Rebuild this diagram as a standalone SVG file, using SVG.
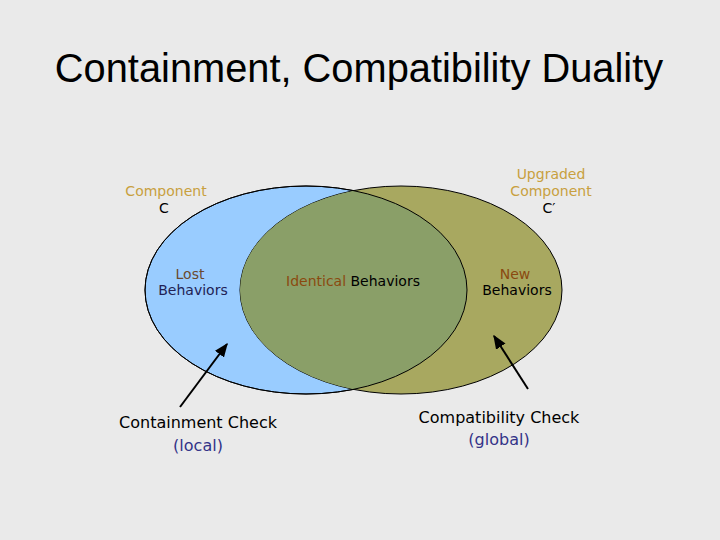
<svg xmlns="http://www.w3.org/2000/svg" width="720" height="540" viewBox="0 0 720 540">
<style>
.v{font-family:Verdana,"DejaVu Sans",sans-serif;font-size:14px;text-anchor:middle}
.t{font-family:Tahoma,"DejaVu Sans",sans-serif;font-size:16px;text-anchor:middle}
.e{stroke:#000;stroke-width:1}
</style>
<defs>
<marker id="a" viewBox="0 0 10 10" refX="9" refY="5" markerWidth="7" markerHeight="7" orient="auto"><path d="M0,1 L10,5 L0,9 z" fill="#000"/></marker>
<clipPath id="c"><ellipse cx="306" cy="290" rx="161" ry="104"/></clipPath>
</defs>
<rect width="720" height="540" fill="#eaeaea"/>
<text x="359" y="82" font-family="Liberation Sans,Arial,sans-serif" font-size="39.8" text-anchor="middle">Containment, Compatibility Duality</text>
<g id="compC"><ellipse class="e" cx="306" cy="290" rx="161" ry="104" fill="#99ccff"/></g>
<g id="compCp"><ellipse class="e" cx="401" cy="290" rx="161" ry="104" fill="#a8a860"/>
<ellipse cx="401" cy="290" rx="161" ry="104" fill="#8a9f68" clip-path="url(#c)"/>
<ellipse cx="306" cy="290" rx="161" ry="104" fill="none" stroke="#000" stroke-width="1"/>
</g>
<g id="labels">
<text class="v" x="166" y="196" fill="#c8a040">Component</text>
<text class="v" x="164" y="213" fill="#000">C</text>
<text class="v" x="551" y="179" fill="#c8a040">Upgraded</text>
<text class="v" x="551" y="196" fill="#c8a040">Component</text>
<text class="v" x="549" y="213" fill="#000">C′</text>
<text class="v" x="190" y="279" font-size="12" fill="#6a4a30">Lost</text>
<text class="v" x="193" y="295" font-size="12" fill="#222255">Behaviors</text>
<text class="v" x="353" y="286" font-size="12"><tspan fill="#8a4a10">Identical</tspan><tspan fill="#000"> Behaviors</tspan></text>
<text class="v" x="515" y="279" font-size="12" fill="#8a4a10">New</text>
<text class="v" x="517" y="295" font-size="12" fill="#000">Behaviors</text>
<text class="t" x="198" y="428" fill="#000">Containment Check</text>
<text class="t" x="198" y="451" fill="#333388">(local)</text>
<text class="t" x="499" y="423" fill="#000">Compatibility Check</text>
<text class="t" x="499" y="445" fill="#333388">(global)</text>
</g>
<g id="connectors" stroke="#000" stroke-width="2" marker-end="url(#a)">
<line x1="180" y1="407" x2="227" y2="344"/>
<line x1="528" y1="389" x2="494" y2="336"/>
</g>
</svg>
